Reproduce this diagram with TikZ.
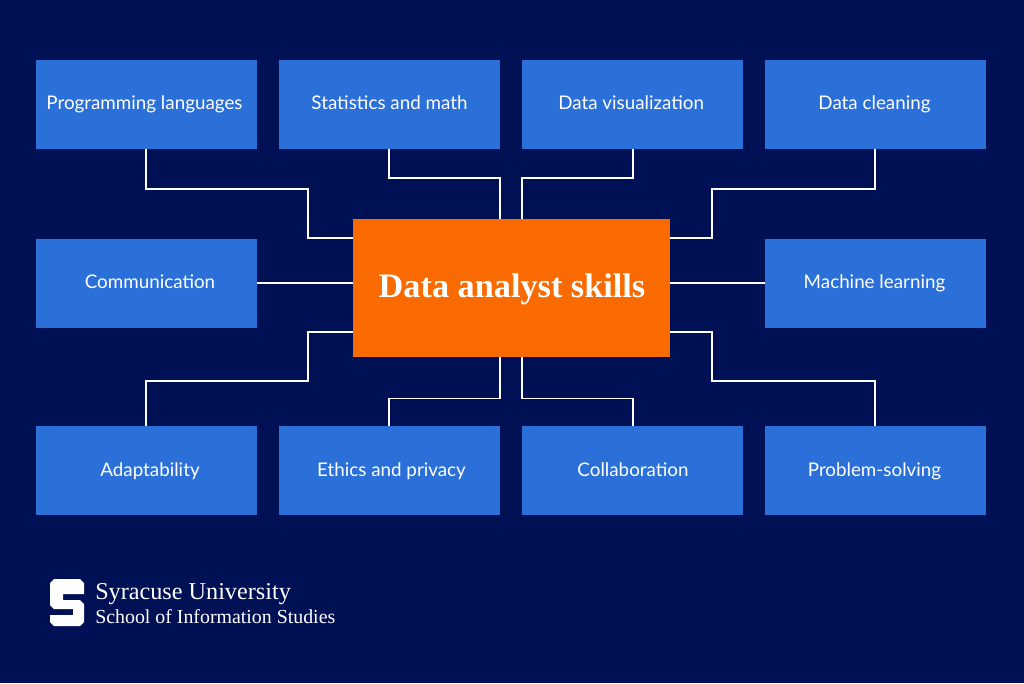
\documentclass[tikz,border=0pt]{standalone}
\usepackage{fontspec}
\setmainfont{Lato}
\newfontfamily\serifx{Liberation Serif}
\usetikzlibrary{calc}
\definecolor{bgc}{HTML}{001055}
\definecolor{boxc}{HTML}{2A70D8}
\definecolor{orangec}{HTML}{F96B00}
\tikzset{
  skill/.style={fill=boxc,draw=none,text=white,minimum width=165.75pt,minimum height=66.75pt,inner sep=0pt,outer sep=0pt,text height=11.75pt,text depth=5pt,font=\fontsize{14.1pt}{17pt}\selectfont},
  skilllow/.style={skill,text height=13.25pt},
  hub/.style={fill=orangec,draw=none,minimum width=237.75pt,minimum height=103.5pt,inner sep=0pt,outer sep=0pt},
  hubtext/.style={text=white,inner sep=0pt,text height=20pt,text depth=6pt,font=\serifx\bfseries\fontsize{25.7pt}{28pt}\selectfont},
  link/.style={draw=white,line width=1.4pt},
  logotext/.style={text=white,anchor=base west,inner sep=0pt}
}
\newcommand{\sh}[1]{\hspace*{#1}}
\begin{document}
\begin{tikzpicture}[x=0.75pt,y=-0.75pt]
\path[use as bounding box,fill=bgc] (0,0) rectangle (1024,683);
\node[skill] (p) at (146.5,104.5) {\sh{-3pt}Programming languages};
\node[skill] (s) at (389.5,104.5) {Statistics and math};
\node[skill] (v) at (632.5,104.5) {\sh{-2pt}Data visualization};
\node[skill] (d) at (875.5,104.5) {\sh{-1.5pt}Data cleaning};
\node[skill] (c) at (146.5,283.5) {\sh{5.25pt}Communication};
\node[skill] (m) at (875.5,283.5) {\sh{-1.5pt}Machine learning};
\node[skilllow] (a) at (146.5,470.5) {\sh{5.25pt}Adaptability};
\node[skilllow] (e) at (389.5,470.5) {\sh{3pt}Ethics and privacy};
\node[skilllow] (o) at (632.5,470.5) {\sh{.75pt}Collaboration};
\node[skilllow] (r) at (875.5,470.5) {\sh{-1.5pt}Problem-solving};
\node[hub] (h) at (511.5,288) {};
\coordinate (hwt) at (353,238);
\coordinate (het) at (670,238);
\coordinate (hwb) at (353,332);
\coordinate (heb) at (670,332);
\coordinate (hnl) at (500,219);
\coordinate (hnr) at (522,219);
\coordinate (hsl) at (500,357);
\coordinate (hsr) at (522,357);
\coordinate (hw) at (353,283);
\coordinate (he) at (670,283);
\coordinate (pb) at (145.7,149);
\coordinate (sb) at (389.3,149);
\coordinate (vb) at (632.7,149);
\coordinate (db) at (875,149);
\coordinate (at) at (145.7,426);
\coordinate (et) at (389.3,426);
\coordinate (ot) at (632.7,426);
\coordinate (rt) at (875,426);
\draw[link] (pb) |- (308,189.3) |- (hwt);
\draw[link] (sb) |- (hnl |- 0,178) -- (hnl);
\draw[link] (vb) |- (hnr |- 0,178) -- (hnr);
\draw[link] (db) |- (712.3,189.3) |- (het);
\draw[link] (c.east |- hw) -- (hw);
\draw[link] (m.west |- he) -- (he);
\draw[link] (at) |- (308,381) |- (hwb);
\draw[link] (et) |- (hsl |- 0,398.5) -- (hsl);
\draw[link] (ot) |- (hsr |- 0,398.5) -- (hsr);
\draw[link] (rt) |- (712.3,381) |- (heb);
\node[hubtext] (ht) at (512,287.7) {Data analyst skills};
% logo
\fill[white] (54,579) -- (80,579) -- (84,583) -- (84,594) -- (63,594) -- (63,600) -- (80,600) -- (84,604) -- (84,622) -- (80,626) -- (54,626) -- (50,622) -- (50,615) -- (73,615) -- (73,609) -- (54,609) -- (50,605) -- (50,583) -- cycle;
\node[logotext,font=\serifx\fontsize{18.15pt}{20pt}\selectfont] (l1) at (95,599) {Syracuse University};
\node[logotext,font=\serifx\fontsize{14.9pt}{18pt}\selectfont] (l2) at (95,623) {School of Information Studies};
\end{tikzpicture}
\end{document}
